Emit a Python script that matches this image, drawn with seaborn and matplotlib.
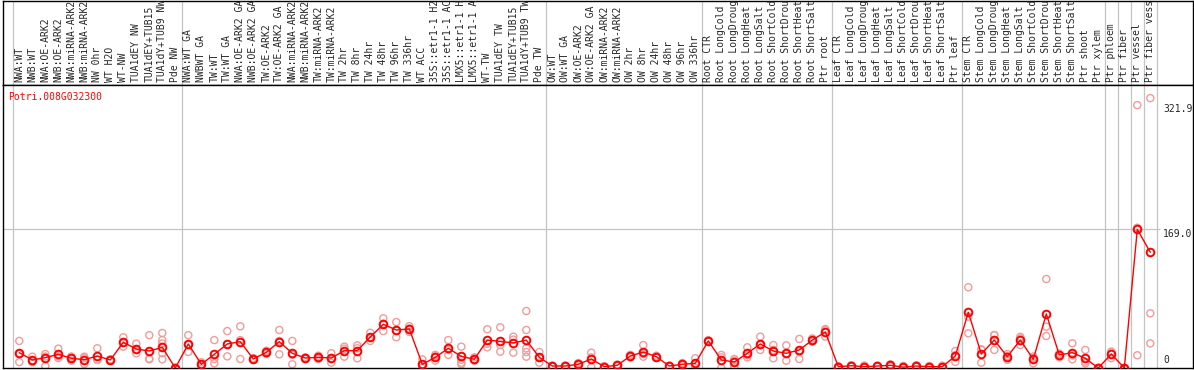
import numpy as np
import pandas as pd
import seaborn as sns
import matplotlib.pyplot as plt

gene = 'Potri.008G032300'

samples = ['NWA:WT', 'NWB:WT', 'NWA:OE-ARK2', 'NWB:OE-ARK2', 'NWA:miRNA-ARK2', 'NWB:miRNA-ARK2',
           'NW 0hr', 'WT H2O', 'WT-NW', 'TUA1dEY NW', 'TUA1dEY+TUB15', 'TUA1dY+TUB9 NW', 'Pde NW',
           'NWA:WT GA', 'NWBWT GA', 'TW:WT', 'TW:WT GA', 'NWA:OE-ARK2 GA', 'NWB:OE-ARK2 GA',
           'TW:OE-ARK2', 'TW:OE-ARK2 GA', 'NWA:miRNA-ARK2', 'NWB:miRNA-ARK2', 'TW:miRNA-ARK2',
           'TW:miRNA-ARK2', 'TW 2hr', 'TW 8hr', 'TW 24hr', 'TW 48hr', 'TW 96hr', 'TW 336hr', 'WT ACC',
           '35S::etr1-1 H2O', '35S::etr1-1 ACC', 'LMX5::etr1-1 H2O', 'LMX5::etr1-1 ACC', 'WT-TW',
           'TUA1dEY TW', 'TUA1dEY+TUB15', 'TUA1dY+TUB9 TW', 'Pde TW',
           'OW:WT', 'OW:WT GA', 'OW:OE-ARK2', 'OW:OE-ARK2 GA', 'OW:miRNA-ARK2', 'OW:miRNA-ARK2',
           'OW 2hr', 'OW 8hr', 'OW 24hr', 'OW 48hr', 'OW 96hr', 'OW 336hr',
           'Root CTR', 'Root LongCold', 'Root LongDrought', 'Root LongHeat', 'Root LongSalt',
           'Root ShortCold', 'Root ShortDrought', 'Root ShortHeat', 'Root ShortSalt', 'Ptr root',
           'Leaf CTR', 'Leaf LongCold', 'Leaf LongDrought', 'Leaf LongHeat', 'Leaf LongSalt',
           'Leaf ShortCold', 'Leaf ShortDrought', 'Leaf ShortHeat', 'Leaf ShortSalt', 'Ptr leaf',
           'Stem CTR', 'Stem LongCold', 'Stem LongDrought', 'Stem LongHeat', 'Stem LongSalt',
           'Stem ShortCold', 'Stem ShortDrought', 'Stem ShortHeat', 'Stem ShortSalt', 'Ptr shoot',
           'Ptr xylem', 'Ptr phloem', 'Ptr fiber', 'Ptr vessel', 'Ptr fiber vessel']

means = [18.7, 9.8, 12.6, 16.7, 11.8, 10.2, 14.6, 9.8, 31.3, 23.2, 20.7, 25.2, 0,
         29.3, 4.5, 16.7, 29.3, 32.1, 11.0, 19.1, 32.1, 17.9, 12.2, 13.0, 12.2, 21.1, 21.1,
         37.8, 53.3, 46.3, 47.6, 4.5, 13.0, 24.0, 14.2, 10.6, 34.0, 32.5, 30.5, 34.0, 13.0,
         2.4, 2.4, 4.5, 11.0, 1.6, 3.3, 14.6, 19.5, 13.8, 2.4, 4.5, 5.7,
         33.0, 9.8, 7.3, 17.9, 29.3, 20.7, 17.9, 22.0, 34.0, 43.9,
         1.6, 2.8, 1.6, 2.4, 3.3, 1.0, 2.4, 1.6, 1.6, 14.6,
         67.9, 17.1, 34.1, 13.8, 34.1, 10.6, 65.9, 15.9, 18.7, 11.8,
         0, 17.1, 0, 169.0, 141.0]

replicates = [
    [33, 7.3, 17], [13.8, 7, 9], [17, 2.4, 14], [23.6, 12, 14], [14, 9, 12], [13.8, 4.9, 12],
    [24, 10, 10], [10.5, 9, 10], [37.4, 26, 31], [29.7, 17.9, 22], [40, 10.6, 11.5],
    [42.7, 34, 30, 18, 10.6], [0, 0, 0],
    [40, 19.5, 28], [2, 4, 7], [34, 5.7, 11], [45, 14.2, 29], [50.8, 11, 34], [12, 10, 11],
    [21, 17, 19], [46.3, 16.7, 33], [33, 4.5, 16], [13, 11, 12.5], [15, 11, 13], [18, 6.5, 12],
    [26, 13.8, 23.5], [27.6, 11.8, 24], [43, 33, 37.5], [60.6, 45, 54], [56, 37.4, 45.5],
    [51, 44, 48], [10.6, 0, 3], [16, 9, 14], [34, 15.9, 22], [26, 6.5, 4.5, 10], [13, 9, 10],
    [47.2, 25.2, 29.6], [49.6, 19.9, 28], [38.2, 18.7, 34.6], [69.5, 46.3, 24, 13.8, 19.5],
    [19.5, 6.5, 13],
    [2, 3, 2], [1.5, 3, 2.7], [6, 3, 4.5], [18.7, 1, 13], [1, 2, 1.8], [4, 2.5, 3.4],
    [16, 13, 15], [28, 13.8, 17], [15, 12.5, 14], [2, 3, 2.2], [6, 3, 4.5], [11.8, 0, 5],
    [34, 32, 33], [15.9, 0, 13], [11, 1.5, 9], [25.2, 13, 15.5], [38.2, 22, 27.8],
    [28, 11.8, 22], [27.6, 8.9, 17], [35.4, 11, 19.6], [36, 32, 34], [46, 38.2, 47.5],
    [1, 2, 1.8], [3.5, 2, 3], [3, 0.5, 1.3], [3, 1.8, 2.4], [4.5, 2, 3.4], [2.5, 0, 0.5],
    [3.5, 1.5, 2.2], [2.5, 1, 1.3], [2.8, 0.8, 1.2], [20.7, 7.5, 15.6],
    [98.4, 62.6, 42.3], [22.8, 6.5, 22], [40.2, 22, 40], [17, 10, 14.5], [36, 28, 38],
    [14, 5.7, 12], [108.5, 50.4, 39], [17, 13, 17.5], [30.1, 10.6, 15.4], [22, 5.7, 7.7],
    [0, 0, 0], [19, 12, 20], [0, 0, 0], [320.5, 171, 15.5], [329, 66.7, 30]]

group_sizes = [13, 28, 12, 10, 10, 11, 1, 1, 1, 1]
tick_values = [321.9, 169.0, 0]
tick_labels = ['321.9', '169.0', '0']

sns.set_style('white')
plt.rcParams['font.family'] = ['DejaVu Sans Mono']

mean_df = pd.DataFrame({'pos': np.arange(len(samples)), 'value': means})
rep_df = pd.DataFrame({'pos': np.arange(len(samples)), 'value': replicates}).explode('value')
rep_df['value'] = rep_df['value'].astype(float)

W, H = 1194, 370
fig = plt.figure(figsize=(W / 100, H / 100), dpi=100)
hdr = fig.add_axes([3 / W, 285 / H, 1190 / W, 84.5 / H])
ax = fig.add_axes([3 / W, 2 / H, 1190 / W, 283 / H])

xlo, xhi = (3 - 19.3) / 13, (1193 - 19.3) / 13
grey = '#c4c4c4'

sns.scatterplot(data=rep_df, x='pos', y='value', ax=ax, color='#f29b9b', s=26,
                linewidth=1.0, zorder=2, legend=False)
pts = ax.collections[-1]
pts.set_facecolor('none')
pts.set_edgecolor('#f29b9b')

sns.lineplot(data=mean_df, x='pos', y='value', ax=ax, color='red', lw=1, marker='o',
             markersize=5.5, markerfacecolor='none', markeredgecolor='red',
             markeredgewidth=1.4, zorder=3)

bounds = np.cumsum([0] + group_sizes) - 0.5
for a in (ax, hdr):
    a.set_xlim(xlo, xhi)
    a.set_xticks([])
    a.set_yticks([])
    a.set_xlabel('')
    a.set_ylabel('')
    for b in bounds:
        a.axvline(b, color=grey, lw=0.9, zorder=1)
    for sp in a.spines.values():
        sp.set_color('black')
        sp.set_linewidth(1)
hdr.set_ylim(0, 1)
ax.set_ylim(0, 345)

ax.hlines(tick_values[1], xlo, 87.75, color=grey, lw=0.9, zorder=1)

for i, s in enumerate(samples):
    hdr.text(i, 0.03, s, rotation=90, ha='center', va='bottom', fontsize=7, clip_on=True)

ax.text(0.0042, 0.958, gene, transform=ax.transAxes, color='red', fontsize=7,
        ha='left', va='center')

for v, t in zip(tick_values, tick_labels):
    ax.annotate(t, xy=(87.98, v), xytext=(0, 0 if v > 0 else 2), textcoords='offset points',
                ha='left', va='top' if v > 0 else 'bottom', fontsize=7, annotation_clip=False)

fig.savefig('out.png', dpi=100)
